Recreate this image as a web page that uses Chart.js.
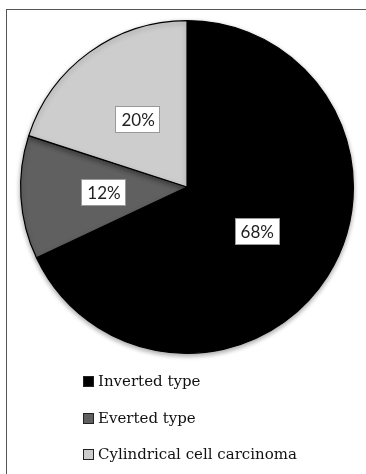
<!DOCTYPE html>
<html>
<head>
<meta charset="utf-8">
<script src="https://cdn.jsdelivr.net/npm/chart.js@4/dist/chart.umd.min.js"></script>
<style>
  html, body { margin: 0; padding: 0; background: #fff; }
  body { width: 366px; height: 474px; position: relative; overflow: hidden; }
  #frame { position: absolute; left: 6px; top: 9px; width: 380px; height: 490px; border: 1.5px solid #555; box-sizing: border-box; }
  #wrap { position: absolute; left: 0; top: 0; width: 366px; height: 474px; }
  #legend { position: absolute; left: 83px; top: 370px; font-family: "DejaVu Serif", serif; font-size: 15px; color: #111; }
  .item { position: absolute; left: 0; white-space: nowrap; height: 22px; line-height: 22px; }
  .box { position: absolute; left: 0; top: 6px; width: 9px; height: 9px; border: 1px solid #222; }
  .lbl { position: absolute; left: 15px; top: 0; }
</style>
</head>
<body>
<div id="frame"></div>
<div id="wrap"><canvas id="c" width="366" height="474"></canvas></div>
<div id="legend"></div>
<script>
const categories = ["Inverted type", "Everted type", "Cylindrical cell carcinoma"];
const percentages = [68, 12, 20];
const sliceColors = ["#000000", "#606060", "#cdcdcd"];

const labelPlugin = {
  id: 'boxLabels',
  afterDatasetsDraw(chart) {
    const ctx = chart.ctx;
    const meta = chart.getDatasetMeta(0);
    ctx.save();
    ctx.font = '17px Lato, "Open Sans", sans-serif';
    ctx.textAlign = 'center';
    ctx.textBaseline = 'middle';
    meta.data.forEach((arc, i) => {
      const p = arc.getProps(['x','y','startAngle','endAngle','outerRadius'], true);
      const mid = (p.startAngle + p.endAngle) / 2;
      const r = p.outerRadius * 0.5;
      const x = p.x + Math.cos(mid) * r;
      const y = p.y + Math.sin(mid) * r;
      const text = percentages[i] + '%';
      const w = ctx.measureText(text).width + 12;
      const h = 27;
      ctx.fillStyle = '#fff';
      ctx.fillRect(Math.round(x - w/2), Math.round(y - h/2), Math.round(w), h);
      ctx.strokeStyle = '#999';
      ctx.lineWidth = 1;
      ctx.strokeRect(Math.round(x - w/2)+0.5, Math.round(y - h/2)+0.5, Math.round(w)-1, h-1);
      ctx.fillStyle = '#222';
      ctx.fillText(text, x, y + 1);
    });
    ctx.restore();
  }
};

const shadowPlugin = {
  id: 'shadow',
  beforeDatasetsDraw(chart) {
    const ctx = chart.ctx;
    ctx.save();
    ctx.shadowColor = 'rgba(0,0,0,0.35)';
    ctx.shadowBlur = 5;
    ctx.shadowOffsetY = 2;
  },
  afterDatasetsDraw(chart) {
    chart.ctx.restore();
  }
};

const chart = new Chart(document.getElementById('c'), {
  type: 'pie',
  data: {
    labels: categories,
    datasets: [{
      data: percentages,
      backgroundColor: sliceColors,
      borderColor: '#000',
      borderWidth: 1.2
    }]
  },
  options: {
    responsive: false,
    animation: false,
    layout: { padding: { left: 20, right: 12, top: 20, bottom: 120 } },
    plugins: { legend: { display: false }, tooltip: { enabled: false } }
  },
  plugins: [shadowPlugin, labelPlugin]
});

const legendEl = document.getElementById('legend');
categories.forEach((c, i) => {
  const item = document.createElement('div');
  item.className = 'item';
  item.style.top = (i * 36.5) + 'px';
  const box = document.createElement('span');
  box.className = 'box';
  box.style.background = sliceColors[i];
  const lbl = document.createElement('span');
  lbl.className = 'lbl';
  lbl.textContent = c;
  item.appendChild(box);
  item.appendChild(lbl);
  legendEl.appendChild(item);
});
</script>
</body>
</html>
